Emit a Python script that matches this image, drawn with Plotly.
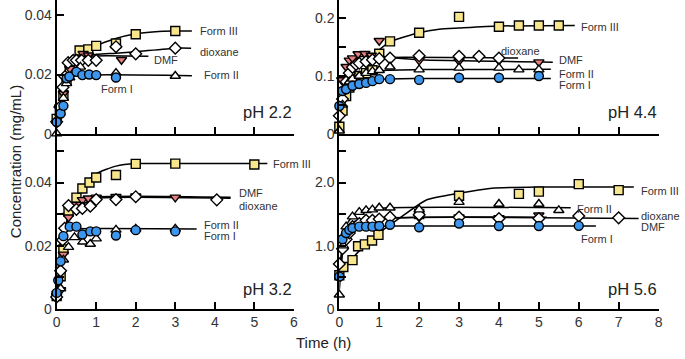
import plotly.graph_objects as go

# ---------------- pH 2.2 (top-left) ----------------
t22_III = [0, 0.08, 0.17, 0.25, 0.33, 0.42, 0.58, 0.8, 1, 1.5, 2, 3]
c22_III = [0.005, 0.008, 0.013, 0.018, 0.021, 0.023, 0.0281, 0.0285, 0.0297, 0.0305, 0.0336, 0.0347]
t22_DMF = [0.08, 0.17, 0.25, 0.33, 0.5, 0.67, 0.8, 1.64]
c22_DMF = [0.009, 0.0135, 0.019, 0.022, 0.0255, 0.027, 0.0265, 0.025]
t22_DIO = [0, 0.08, 0.16, 0.21, 0.29, 0.42, 0.5, 0.63, 0.8, 1, 1.5, 2, 3]
c22_DIO = [0.004, 0.009, 0.0157, 0.0193, 0.024, 0.0248, 0.0248, 0.0248, 0.0248, 0.0248, 0.0294, 0.027, 0.0289]
t22_II = [0, 0.08, 0.17, 0.25, 0.33, 0.6, 1.5, 3]
c22_II = [0, 0.007, 0.012, 0.017, 0.019, 0.0226, 0.0205, 0.0195]
t22_I = [0, 0.1, 0.17, 0.25, 0.32, 0.5, 0.65, 0.82, 1, 1.5]
c22_I = [0.0039, 0.0068, 0.0094, 0.0187, 0.0193, 0.0209, 0.0198, 0.0200, 0.0198, 0.0190]
# fitted curves
ft22_III = [0, 0.1, 0.2, 0.3, 0.5, 0.8, 1, 1.5, 2, 2.5, 3, 3.42]
fc22_III = [0.004, 0.01, 0.016, 0.02, 0.025, 0.028, 0.0297, 0.0322, 0.0338, 0.0345, 0.0347, 0.0347]
ft22_DIO = [0, 0.1, 0.2, 0.3, 0.5, 0.8, 1.5, 2, 3, 3.4]
fc22_DIO = [0.004, 0.01, 0.017, 0.021, 0.025, 0.0265, 0.0272, 0.0277, 0.0289, 0.0289]
ft22_DMF = [0, 0.1, 0.2, 0.3, 0.5, 0.8, 2.32]
fc22_DMF = [0.004, 0.01, 0.017, 0.021, 0.025, 0.0262, 0.0262]
ft22_II = [0, 0.1, 0.2, 0.3, 0.5, 3.42]
fc22_II = [0.003, 0.008, 0.015, 0.0185, 0.0196, 0.0196]

# ---------------- pH 3.2 (bottom-left) ----------------
t32_III = [0, 0.1, 0.17, 0.3, 0.5, 0.65, 0.83, 1, 1.5, 2, 3, 5]
c32_III = [0.004, 0.0103, 0.0188, 0.0307, 0.0352, 0.0381, 0.040, 0.0416, 0.0424, 0.0459, 0.046, 0.0457]
t32_DMF = [0, 0.1, 0.17, 0.3, 0.5, 0.65, 0.8, 1, 1.5, 2, 3]
c32_DMF = [0.004, 0.0059, 0.0172, 0.029, 0.033, 0.0345, 0.035, 0.0353, 0.0355, 0.0357, 0.0353]
t32_DIO = [0, 0.1, 0.15, 0.2, 0.3, 0.5, 0.65, 0.85, 1, 1.5, 2, 4.05]
c32_DIO = [0.0037, 0.012, 0.0218, 0.0255, 0.0327, 0.0315, 0.0318, 0.0325, 0.0346, 0.0346, 0.0355, 0.0345]
t32_II = [0.1, 0.17, 0.3, 0.45, 0.66, 0.85, 1, 1.5, 2, 3]
c32_II = [0.0064, 0.0155, 0.0195, 0.0226, 0.0212, 0.0205, 0.0222, 0.025, 0.0253, 0.0253]
t32_I = [0, 0.04, 0.1, 0.17, 0.33, 0.5, 0.65, 0.85, 1, 1.5, 2, 3]
c32_I = [0.005, 0.009, 0.015, 0.023, 0.026, 0.026, 0.0235, 0.0245, 0.0245, 0.0232, 0.0249, 0.0245]
ft32_III = [0, 0.1, 0.2, 0.3, 0.5, 0.7, 1, 1.5, 2, 3, 5.33]
fc32_III = [0.003, 0.012, 0.022, 0.029, 0.035, 0.039, 0.0428, 0.0452, 0.046, 0.046, 0.046]
ft32_DMF = [0, 0.1, 0.2, 0.3, 0.5, 0.8, 4.4]
fc32_DMF = [0.004, 0.012, 0.024, 0.03, 0.0335, 0.0352, 0.0353]
ft32_DIO = [0, 0.3, 0.5, 0.8, 1, 4.4]
fc32_DIO = [0.030, 0.0305, 0.032, 0.034, 0.035, 0.035]
ft32_II = [0, 0.05, 0.1, 0.15, 0.25, 3.54]
fc32_II = [0.003, 0.015, 0.022, 0.025, 0.0253, 0.0253]

# ---------------- pH 4.4 (top-right) ----------------
t44_III = [0, 0.08, 0.17, 0.25, 0.33, 0.42, 0.5, 0.67, 0.83, 1.0, 1.27, 2, 3, 4, 4.5, 5, 5.5]
c44_III = [0.012, 0.04, 0.065, 0.08, 0.09, 0.097, 0.1, 0.105, 0.11, 0.1385, 0.16, 0.175, 0.2024, 0.1854, 0.1876, 0.1876, 0.1876]
t44_DMF = [0.06, 0.17, 0.25, 0.33, 0.47, 0.64, 0.8, 1, 2, 3, 4, 5]
c44_DMF = [0.093, 0.116, 0.127, 0.131, 0.138, 0.1385, 0.1356, 0.161, 0.127, 0.126, 0.127, 0.124]
t44_DIO = [0, 0.08, 0.17, 0.25, 0.33, 0.42, 0.5, 0.67, 0.83, 1, 1.27, 2, 3, 3.5, 4]
c44_DIO = [0.031, 0.06, 0.09, 0.105, 0.115, 0.12, 0.122, 0.125, 0.128, 0.13, 0.131, 0.135, 0.134, 0.134, 0.131]
t44_II = [0, 0.08, 0.17, 0.25, 0.33, 0.5, 0.67, 0.83, 1, 1.27, 2, 3, 4, 4.5, 5]
c44_II = [0.005, 0.05, 0.08, 0.09, 0.095, 0.1, 0.105, 0.108, 0.11, 0.116, 0.111, 0.114, 0.114, 0.111, 0.111]
t44_I = [0, 0.08, 0.17, 0.33, 0.5, 0.67, 0.83, 1, 1.27, 2, 3, 4, 5]
c44_I = [0.048, 0.074, 0.077, 0.083, 0.086, 0.088, 0.091, 0.0945, 0.0945, 0.0932, 0.097, 0.097, 0.10]
ft44_III = [0, 0.1, 0.25, 0.5, 0.8, 1, 1.3, 2, 2.5, 3, 4, 5.9]
fc44_III = [0.01, 0.045, 0.08, 0.1, 0.12, 0.145, 0.16, 0.175, 0.181, 0.183, 0.1865, 0.1876]
ft44_DIO = [0, 0.1, 0.2, 0.3, 0.5, 0.8, 1.2, 4.48]
fc44_DIO = [0.02, 0.08, 0.105, 0.115, 0.125, 0.13, 0.132, 0.131]
ft44_DMF = [0, 0.1, 0.2, 0.4, 0.7, 1, 2, 5.35]
fc44_DMF = [0.03, 0.09, 0.115, 0.13, 0.135, 0.134, 0.128, 0.124]
ft44_II = [0, 0.1, 0.2, 0.4, 0.7, 1.2, 2, 5.3]
fc44_II = [0.01, 0.07, 0.09, 0.1, 0.106, 0.11, 0.111, 0.1115]
ft44_I = [0, 0.08, 0.17, 0.33, 0.5, 1, 2, 5.3]
fc44_I = [0.02, 0.055, 0.077, 0.085, 0.088, 0.094, 0.0955, 0.0955]

# ---------------- pH 5.6 (bottom-right) ----------------
t56_III = [0, 0.1, 0.33, 0.47, 0.64, 0.82, 0.98, 2, 3, 4.5, 5, 6, 7]
c56_III = [0.53, 0.66, 0.77, 0.99, 1.02, 1.08, 1.17, 1.5, 1.79, 1.82, 1.856, 1.975, 1.88]
t56_DMF = [0.08, 0.17, 0.33, 0.5, 1, 2, 3, 4, 5]
c56_DMF = [0.94, 1.15, 1.25, 1.35, 1.4, 1.45, 1.45, 1.44, 1.48]
t56_DIO = [0, 0.08, 0.17, 0.25, 0.33, 0.5, 0.67, 0.83, 1, 1.27, 2, 3, 4, 5, 6, 7]
c56_DIO = [0.71, 0.95, 1.1, 1.2, 1.3, 1.35, 1.4, 1.4, 1.42, 1.45, 1.49, 1.45, 1.43, 1.43, 1.47, 1.44]
t56_II = [0, 0.1, 0.17, 0.33, 0.5, 0.67, 0.83, 1, 1.27, 2, 3, 4, 5, 5.5]
c56_II = [0.22, 1.0, 1.3, 1.46, 1.53, 1.56, 1.57, 1.6, 1.6, 1.57, 1.69, 1.66, 1.66, 1.56]
t56_I = [0, 0.08, 0.17, 0.25, 0.33, 0.5, 0.67, 0.83, 1, 1.27, 2, 3, 4, 5, 6]
c56_I = [0.51, 1.1, 1.2, 1.25, 1.28, 1.3, 1.3, 1.3, 1.31, 1.33, 1.29, 1.35, 1.31, 1.31, 1.313]
ft56_III = [0, 0.3, 0.6, 1, 1.5, 2.17, 3, 3.82, 5, 7.38]
fc56_III = [0.55, 0.78, 0.98, 1.2, 1.43, 1.72, 1.83, 1.91, 1.93, 1.93]
ft56_DIO = [0, 0.1, 0.2, 0.4, 0.7, 1.2, 3, 7.5]
fc56_DIO = [0.65, 1.0, 1.2, 1.33, 1.4, 1.44, 1.45, 1.43]
ft56_DMF = [0.05, 0.15, 0.3, 0.6, 1, 2, 5.2]
fc56_DMF = [0.9, 1.12, 1.25, 1.36, 1.42, 1.45, 1.45]
ft56_II = [0, 0.1, 0.2, 0.4, 0.7, 1.2, 5.8]
fc56_II = [0.3, 1.0, 1.35, 1.5, 1.56, 1.6, 1.6]
ft56_I = [0, 0.1, 0.2, 0.4, 0.8, 1.5, 6.43]
fc56_I = [0.5, 1.1, 1.22, 1.28, 1.3, 1.31, 1.31]

# labels: (text, t, c)
lab22 = [("Form III", 3.62, 0.0346), ("dioxane", 3.62, 0.0277), ("DMF", 2.47, 0.0248),
         ("Form II", 3.72, 0.0197), ("Form I", 1.12, 0.0151)]
lab32 = [("Form III", 5.47, 0.0458), ("DMF", 4.62, 0.0367), ("dioxane", 4.62, 0.0327),
         ("Form II", 3.72, 0.0265), ("Form I", 3.72, 0.0229)]
lab44 = [("Form III", 6.05, 0.1854), ("dioxane", 4.04, 0.144), ("DMF", 5.5, 0.127),
         ("Form II", 5.5, 0.1036), ("Form I", 5.5, 0.0835)]
lab56 = [("Form III", 7.57, 1.871), ("Form II", 5.95, 1.577), ("dioxane", 7.57, 1.475),
         ("DMF", 7.57, 1.300), ("Form I", 6.05, 1.112)]

YELLOW = "#F8E68C"
PINK = "#E98080"
BLUE = "#3C96EE"
FONT = "Liberation Sans, Arial, sans-serif"

fig = go.Figure()


def add_panel(xa, ya, fits, series, labels):
    for ft, fc in fits:
        fig.add_trace(go.Scatter(x=ft, y=fc, mode="lines", xaxis=xa, yaxis=ya,
                                 line=dict(color="black", width=1.5, shape="spline", smoothing=0.6),
                                 hoverinfo="skip", showlegend=False))
    for t, c, sym, col, sz in series:
        fig.add_trace(go.Scatter(x=t, y=c, mode="markers", xaxis=xa, yaxis=ya, cliponaxis=False,
                                 marker=dict(symbol=sym, color=col, size=sz,
                                             line=dict(color="black", width=1.4)),
                                 showlegend=False))
    for txt, t, c in labels:
        fig.add_annotation(text=txt, x=t, y=c, xref=xa, yref=ya, xshift=-2,
                           xanchor="left", yanchor="middle", showarrow=False,
                           font=dict(family=FONT, size=11, color="#333333"))


def series_list(tIII, cIII, tDMF, cDMF, tDIO, cDIO, tII, cII, tI, cI):
    return [(tIII, cIII, "square", YELLOW, 9),
            (tDMF, cDMF, "triangle-down", PINK, 9),
            (tDIO, cDIO, "diamond", "white", 9),
            (tII, cII, "triangle-up", "white", 9),
            (tI, cI, "circle", BLUE, 9)]


add_panel("x", "y",
          [(ft22_III, fc22_III), (ft22_DIO, fc22_DIO), (ft22_DMF, fc22_DMF), (ft22_II, fc22_II)],
          series_list(t22_III, c22_III, t22_DMF, c22_DMF, t22_DIO, c22_DIO, t22_II, c22_II, t22_I, c22_I),
          lab22)
add_panel("x2", "y2",
          [(ft44_III, fc44_III), (ft44_DIO, fc44_DIO), (ft44_DMF, fc44_DMF), (ft44_II, fc44_II), (ft44_I, fc44_I)],
          series_list(t44_III, c44_III, t44_DMF, c44_DMF, t44_DIO, c44_DIO, t44_II, c44_II, t44_I, c44_I),
          lab44)
add_panel("x3", "y3",
          [(ft32_III, fc32_III), (ft32_DIO, fc32_DIO), (ft32_DMF, fc32_DMF), (ft32_II, fc32_II)],
          series_list(t32_III, c32_III, t32_DMF, c32_DMF, t32_DIO, c32_DIO, t32_II, c32_II, t32_I, c32_I),
          lab32)
add_panel("x4", "y4",
          [(ft56_III, fc56_III), (ft56_DIO, fc56_DIO), (ft56_DMF, fc56_DMF), (ft56_II, fc56_II), (ft56_I, fc56_I)],
          series_list(t56_III, c56_III, t56_DMF, c56_DMF, t56_DIO, c56_DIO, t56_II, c56_II, t56_I, c56_I),
          lab56)

W, H = 685, 359
XL = [53.3 / W, 293.3 / W]
XR = [339.3 / W, 662.3 / W]
YT = [(H - 136.7) / H, 1.0]
YB = [(H - 315.7) / H, (H - 136.7) / H]

axbase = dict(showline=True, linecolor="black", linewidth=2, ticks="inside", ticklen=7,
              tickwidth=1.5, tickcolor="black", showgrid=False, zeroline=False,
              tickfont=dict(family=FONT, size=14, color="#333333"), fixedrange=True)

fig.update_layout(
    width=W, height=H, margin=dict(l=0, r=0, t=0, b=0),
    paper_bgcolor="white", plot_bgcolor="white",
    xaxis=dict(axbase, domain=XL, range=[0, 6], anchor="y", tickvals=[0, 1, 2, 3, 4, 5, 6], showticklabels=False),
    yaxis=dict(axbase, domain=YT, range=[0, 0.0452], anchor="x",
               tickvals=[0, 0.02, 0.04], ticktext=["0", "0.02", "0.04"]),
    xaxis2=dict(axbase, domain=XR, range=[0, 8], anchor="y2", tickvals=list(range(9)), showticklabels=False),
    yaxis2=dict(axbase, domain=YT, range=[0, 0.2317], anchor="x2",
                tickvals=[0, 0.05, 0.1, 0.15, 0.2], ticktext=["0", "", "0.1", "", "0.2"]),
    xaxis3=dict(axbase, domain=XL, range=[0, 6], anchor="y3", tickvals=[0, 1, 2, 3, 4, 5, 6],
                ticktext=["0", "1", "2", "3", "4", "5", "6"]),
    yaxis3=dict(axbase, domain=YB, range=[0, 0.0555], anchor="x3",
                tickvals=[0, 0.01, 0.02, 0.03, 0.04, 0.05], ticktext=["0", "", "0.02", "", "0.04", ""]),
    xaxis4=dict(axbase, domain=XR, range=[0, 8], anchor="y4", tickvals=list(range(9)),
                ticktext=[str(i) for i in range(9)]),
    yaxis4=dict(axbase, domain=YB, range=[0, 2.775], anchor="x4",
                tickvals=[0, 0.5, 1, 1.5, 2, 2.5], ticktext=["0", "", "1.0", "", "2.0", ""]),
)

# panel labels
for txt, xa, ya, yv in [("pH 2.2", "x", "y", 0.0072), ("pH 4.4", "x2", "y2", 0.037),
                        ("pH 3.2", "x3", "y3", 0.0063), ("pH 5.6", "x4", "y4", 0.315)]:
    fig.add_annotation(text=txt, xref=xa + " domain", yref=ya, x=1.0, y=yv, xanchor="right",
                       yanchor="middle", showarrow=False,
                       font=dict(family=FONT, size=16.5, color="#222222"))

fig.add_annotation(text="Concentration (mg/mL)", xref="paper", yref="paper", x=11 / W, y=(H - 165) / H,
                   textangle=-90, showarrow=False, xanchor="center", yanchor="middle",
                   font=dict(family=FONT, size=15, color="#222222"))
fig.add_annotation(text="Time (h)", xref="paper", yref="paper", x=323.5 / W, y=(H - 350) / H,
                   showarrow=False, xanchor="center", yanchor="middle",
                   font=dict(family=FONT, size=15, color="#222222"))

fig.write_html("out.html", config={"displayModeBar": False},
               post_script="document.body.style.margin='0px';")
